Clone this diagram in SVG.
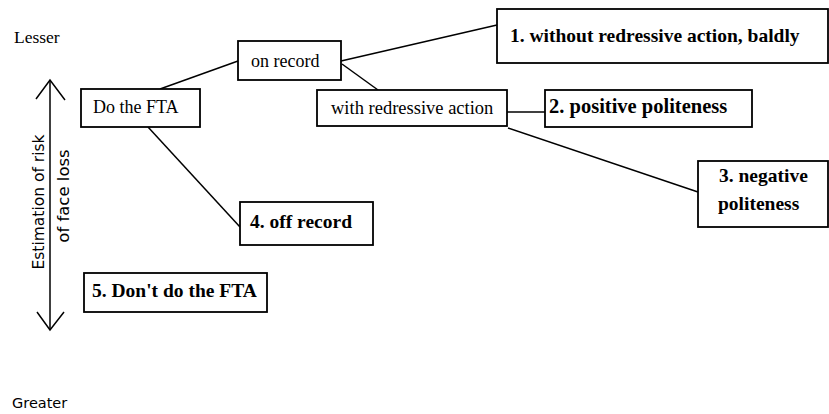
<svg xmlns="http://www.w3.org/2000/svg" width="829" height="414" viewBox="0 0 829 414">
<style>
rect.box{fill:#fff;stroke:#000;stroke-width:1.8}
.reg{font-family:"Liberation Serif","Times New Roman",serif;font-size:18px;fill:#000}
.bold{font-family:"Liberation Serif","Times New Roman",serif;font-size:19.5px;font-weight:bold;fill:#000}
.axis{font-family:"DejaVu Sans","Noto Sans",sans-serif;font-size:15.5px;fill:#000}
.conn line{stroke:#000;stroke-width:1.5}
.arrow{stroke:#000;stroke-width:1.5;fill:none}
</style>
<rect width="829" height="414" fill="#fff"/>
<text class="reg" x="14" y="43" style="font-size:17.5px">Lesser</text>
<text class="axis" x="12" y="408" style="font-size:14.5px">Greater</text>
<g id="axis-arrow">
<line class="arrow" x1="50" y1="80" x2="50" y2="330"/>
<polyline class="arrow" points="36,99 50,80 65,100"/>
<polyline class="arrow" points="37,312 50,330 64,312"/>
<text class="axis" transform="translate(44,202) rotate(-90)" text-anchor="middle">Estimation of risk</text>
<text class="axis" transform="translate(69,196) rotate(-90)" text-anchor="middle" style="font-size:16.5px">of face loss</text>
</g>
<g id="connectors" class="conn">
<line x1="160" y1="89" x2="238" y2="61"/>
<line x1="341" y1="61" x2="497" y2="25"/>
<line x1="342" y1="64" x2="378" y2="90"/>
<line x1="507" y1="112" x2="545" y2="112"/>
<line x1="508" y1="128" x2="698" y2="192"/>
<line x1="148" y1="127" x2="240" y2="227"/>
</g>
<g id="on-record">
<rect class="box" x="238" y="41" width="103" height="39"/>
<text class="reg" x="251" y="67">on record</text>
</g>
<g id="do-fta">
<rect class="box" x="81" y="89" width="119" height="38"/>
<text class="reg" x="93" y="113">Do the FTA</text>
</g>
<g id="with-redressive">
<rect class="box" x="317" y="90" width="190" height="36"/>
<text class="reg" x="331" y="114" style="font-size:18.5px">with redressive action</text>
</g>
<g id="baldly">
<rect class="box" x="497" y="9" width="331" height="54"/>
<text class="bold" x="510" y="42">1. without redressive action, baldly</text>
</g>
<g id="positive">
<rect class="box" x="545" y="90" width="207" height="37"/>
<text class="bold" x="549" y="113" style="font-size:20.5px">2. positive politeness</text>
</g>
<g id="negative">
<rect class="box" x="698" y="161" width="130" height="66"/>
<text class="bold" x="719" y="182">3. negative</text>
<text class="bold" x="718" y="210">politeness</text>
</g>
<g id="off-record">
<rect class="box" x="240" y="202" width="133" height="43"/>
<text class="bold" x="250" y="228">4. off record</text>
</g>
<g id="dont-do">
<rect class="box" x="84" y="273" width="183" height="39"/>
<text class="bold" x="92" y="297">5. Don't do the FTA</text>
</g>
</svg>
